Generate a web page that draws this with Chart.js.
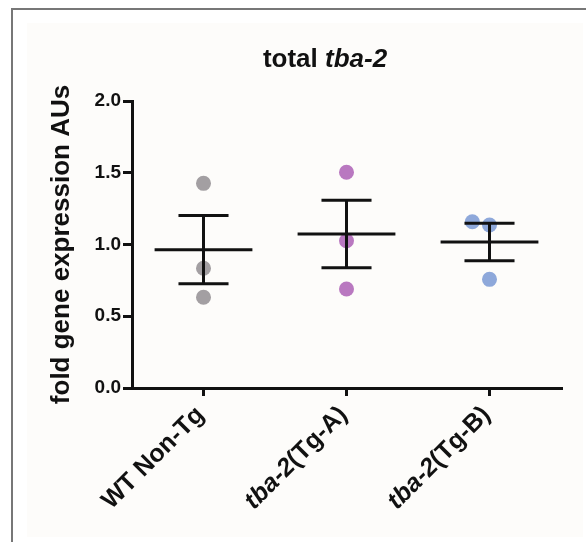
<!DOCTYPE html>
<html><head><meta charset="utf-8">
<script src="https://cdn.jsdelivr.net/npm/chart.js@4.4.1/dist/chart.umd.min.js"></script>
<style>
html,body{margin:0;padding:0;background:#fff;}
#wrap{position:relative;width:586px;height:542px;overflow:hidden;}
#frame{position:absolute;left:11px;top:8px;width:600px;height:560px;border-top:2px solid #777;border-left:2px solid #777;}
#panel{position:absolute;left:27px;top:23px;width:556px;height:514px;background:#fdfcfa;}
canvas{position:absolute;left:0;top:0;}
</style></head><body>
<div id="wrap"><div id="frame"></div><div id="panel"></div><canvas id="c" width="586" height="542"></canvas></div>
<script>
const categories = ['WT Non-Tg', 'tba-2(Tg-A)', 'tba-2(Tg-B)'];
const italicPrefix = ['', 'tba-2', 'tba-2'];
const wtValues = [1.426, 0.834, 0.632];
const tgAValues = [1.503, 1.026, 0.690];
const tgBValues = [1.159, 1.136, 0.757];
const wtJitter = [0, 0, 0];
const tgAJitter = [0, 0, 0];
const tgBJitter = [-0.12, 0, 0];
const yTickValues = [0, 0.5, 1.0, 1.5, 2.0];
const pointColors = ['#a39fa2', '#b978c0', '#8ea8da'];
const titleNormal = 'total ';
const titleItalic = 'tba-2';
const yTitle = 'fold gene expression AUs';

const FONT = '"Liberation Sans", Arial, Helvetica, sans-serif';
const groups = [wtValues, tgAValues, tgBValues];
const jitters = [wtJitter, tgAJitter, tgBJitter];

const datasets = groups.map((vals, g) => ({
  label: categories[g],
  data: vals.map((v, k) => ({ x: g + jitters[g][k], y: v })),
  backgroundColor: pointColors[g],
  borderWidth: 0,
  pointRadius: 7.5,
  pointHoverRadius: 7.5
}));

function meanSem(vals) {
  const n = vals.length;
  const m = vals.reduce((a, b) => a + b, 0) / n;
  const sd = Math.sqrt(vals.reduce((a, b) => a + (b - m) * (b - m), 0) / (n - 1));
  return { m, sem: sd / Math.sqrt(n) };
}

const errorBars = {
  id: 'errorBars',
  afterDatasetsDraw(chart) {
    const { ctx, scales: { x, y } } = chart;
    const catW = x.getPixelForValue(1) - x.getPixelForValue(0);
    ctx.save();
    ctx.strokeStyle = '#111';
    ctx.lineWidth = 3;
    ctx.lineCap = 'butt';
    groups.forEach((vals, g) => {
      const { m, sem } = meanSem(vals);
      const cx = x.getPixelForValue(g);
      const ym = y.getPixelForValue(m), yu = y.getPixelForValue(m + sem), yl = y.getPixelForValue(m - sem);
      const hw = 0.342 * catW, cw = 0.175 * catW;
      ctx.beginPath();
      ctx.moveTo(cx - hw, ym); ctx.lineTo(cx + hw, ym);
      ctx.moveTo(cx - cw, yu); ctx.lineTo(cx + cw, yu);
      ctx.moveTo(cx - cw, yl); ctx.lineTo(cx + cw, yl);
      ctx.moveTo(cx, yu); ctx.lineTo(cx, yl);
      ctx.stroke();
    });
    ctx.restore();
  }
};

const texts = {
  id: 'texts',
  afterDraw(chart) {
    const { ctx, scales: { x } } = chart;
    ctx.save();
    ctx.fillStyle = '#111';
    // title
    const fN = 'bold 26px ' + FONT, fI = 'italic bold 26px ' + FONT;
    ctx.font = fN; const wN = ctx.measureText(titleNormal).width;
    ctx.font = fI; const wI = ctx.measureText(titleItalic).width;
    let sx = 325 - (wN + wI) / 2;
    ctx.textBaseline = 'alphabetic'; ctx.textAlign = 'left';
    ctx.font = fN; ctx.fillText(titleNormal, sx, 67);
    ctx.font = fI; ctx.fillText(titleItalic, sx + wN, 67);
    // x labels
    const lN = 'bold 25px ' + FONT, lI = 'italic bold 25px ' + FONT;
    categories.forEach((lab, i) => {
      const pre = italicPrefix[i];
      const rest = lab.slice(pre.length);
      const px = x.getPixelForValue(i) - 3;
      const py = x.top + 23;
      ctx.save();
      ctx.translate(px, py);
      ctx.rotate(-Math.PI / 4);
      ctx.textBaseline = 'middle';
      ctx.font = lN; const wr = ctx.measureText(rest).width;
      ctx.textAlign = 'right';
      ctx.fillText(rest, 0, 0);
      if (pre) { ctx.font = lI; ctx.fillText(pre, -wr, 0); }
      ctx.restore();
    });
    ctx.restore();
  }
};

new Chart(document.getElementById('c'), {
  type: 'scatter',
  data: { datasets },
  plugins: [errorBars, texts],
  options: {
    responsive: false,
    animation: false,
    layout: { padding: { top: 101, right: 25, bottom: 0, left: 0 } },
    plugins: { legend: { display: false }, tooltip: { enabled: false }, title: { display: false } },
    scales: {
      x: {
        type: 'linear', min: -0.5, max: 2.5,
        afterBuildTicks: s => { s.ticks = categories.map((c, i) => ({ value: i })); },
        afterFit: s => { s.height = 154; },
        ticks: { display: false },
        grid: { drawOnChartArea: false, drawTicks: true, tickLength: 8, lineWidth: 3, color: '#111' },
        border: { display: true, color: '#111', width: 3 }
      },
      y: {
        min: 0, max: 2,
        afterBuildTicks: s => { s.ticks = yTickValues.map(v => ({ value: v })); },
        afterFit: s => { s.width = 132; },
        ticks: { color: '#111', font: { family: FONT, size: 19, weight: 'bold' }, padding: 2, callback: v => Number(v).toFixed(1) },
        grid: { drawOnChartArea: false, drawTicks: true, tickLength: 9, lineWidth: 3, color: '#111' },
        border: { display: true, color: '#111', width: 3 },
        title: { display: true, text: yTitle, color: '#111', font: { family: FONT, size: 26, weight: 'bold' }, padding: { top: 46, bottom: 0 } }
      }
    }
  }
});
</script>
</body></html>
